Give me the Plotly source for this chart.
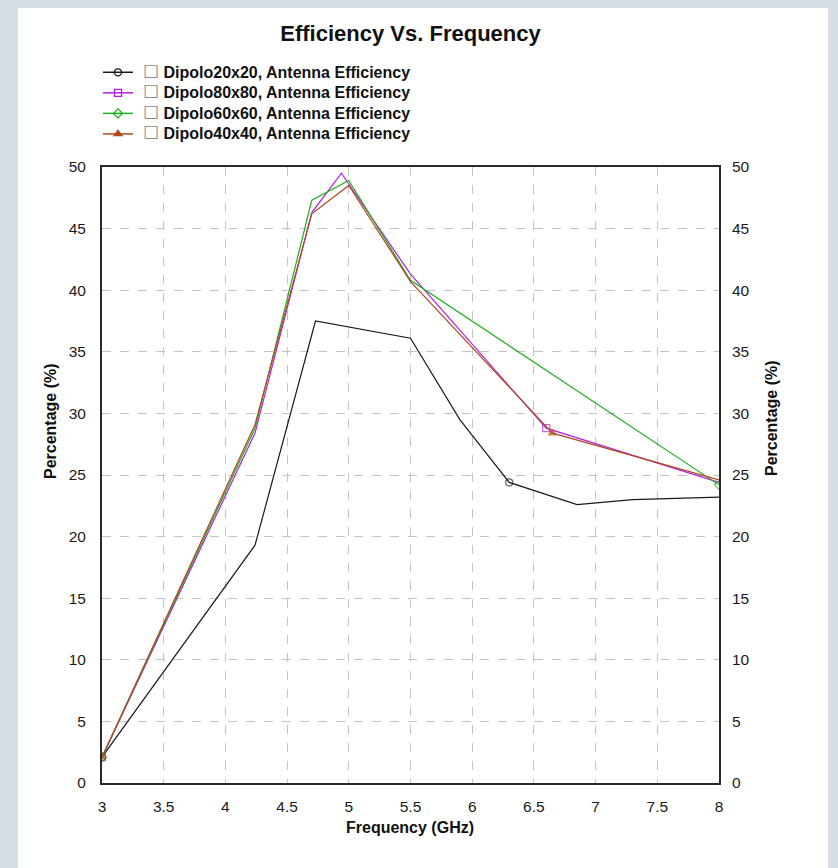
import plotly.graph_objects as go

# Data
black_x = [3.0, 4.24, 4.73, 5.5, 5.9, 6.3, 6.85, 7.3, 8.0]
black_y = [2.1, 19.3, 37.5, 36.1, 29.5, 24.4, 22.6, 23.0, 23.2]
black_m = [1, 0, 0, 0, 0, 1, 0, 0, 0]

purple_x = [3.0, 4.24, 4.7, 4.94, 5.5, 6.6, 8.0]
purple_y = [2.1, 28.4, 46.3, 49.5, 41.3, 28.8, 24.4]
purple_m = [1, 0, 0, 0, 0, 1, 0]

green_x = [3.0, 4.24, 4.7, 5.0, 5.5, 8.0]
green_y = [2.1, 28.8, 47.3, 48.9, 40.8, 24.2]
green_m = [1, 0, 0, 0, 0, 1]

brown_x = [3.0, 4.24, 4.7, 5.0, 5.5, 6.65, 8.0]
brown_y = [2.1, 29.1, 46.2, 48.5, 40.7, 28.4, 24.6]
brown_m = [1, 0, 0, 0, 0, 1, 0]

names = ["Dipolo20x20, Antenna Efficiency", "Dipolo80x80, Antenna Efficiency",
         "Dipolo60x60, Antenna Efficiency", "Dipolo40x40, Antenna Efficiency"]
y_ticks = list(range(0, 51, 5))
x_ticks = [3, 3.5, 4, 4.5, 5, 5.5, 6, 6.5, 7, 7.5, 8]

series = [
    (black_x, black_y, black_m, names[0], "#1a1a1a", "circle-open"),
    (purple_x, purple_y, purple_m, names[1], "#b41ee6", "square-open"),
    (green_x, green_y, green_m, names[2], "#1cae1c", "diamond-open"),
    (brown_x, brown_y, brown_m, names[3], "#b04a1c", "triangle-up"),
]

fig = go.Figure()
box = "<span style='color:#8a8a8a;font-weight:normal;font-size:18px'>&nbsp;☐</span>"
for xs, ys, ms, nm, col, sym in series:
    fig.add_trace(go.Scatter(
        x=xs, y=ys, mode="lines+markers", name=nm, showlegend=False,
        line=dict(color=col, width=1.2),
        marker=dict(symbol=sym, size=[7 if m else 0 for m in ms], color=col,
                    line=dict(color=col, width=1.2)),
    ))
for xs, ys, ms, nm, col, sym in series:
    fig.add_trace(go.Scatter(
        x=[None], y=[None], mode="lines+markers",
        name=box + "<span style='font-size:16px'> " + nm + "</span>",
        line=dict(color=col, width=1.5),
        marker=dict(symbol=sym, size=7, color=col, line=dict(color=col, width=1.3)),
    ))

# dummy trace for right axis
fig.add_trace(go.Scatter(x=[3], y=[0], yaxis="y2", mode="markers",
                         marker=dict(opacity=0), showlegend=False, hoverinfo="skip"))

W, H = 838, 868
L, R, T, B = 102, 719, 167, 783
pw, ph = R - L, B - T

def px2x(px):
    return (px - L) / pw

def py2y(py):
    return (B - py) / ph

fig.add_shape(type="rect", xref="paper", yref="paper",
              x0=px2x(18), x1=px2x(828), y0=py2y(872), y1=py2y(8),
              fillcolor="white", line=dict(width=0), layer="below")

axis_font = dict(family="Liberation Sans, Arial", size=15.5, color="#1a1a1a")
title_font = dict(family="Liberation Sans, Arial", size=16, color="#111111", weight="bold")

fig.add_annotation(text="Percentage (%)", xref="paper", yref="paper",
                   x=px2x(50), y=py2y(421), textangle=-90, showarrow=False,
                   font=title_font, xanchor="center", yanchor="middle")
fig.add_annotation(text="Percentage (%)", xref="paper", yref="paper",
                   x=px2x(771), y=py2y(418), textangle=-90, showarrow=False,
                   font=title_font, xanchor="center", yanchor="middle")
fig.add_annotation(text="Frequency (GHz)", xref="paper", yref="paper",
                   x=px2x(410), y=py2y(827), showarrow=False,
                   font=title_font, xanchor="center", yanchor="middle")

fig.update_layout(
    width=W, height=H,
    margin=dict(l=L, r=W - R, t=T, b=H - B),
    paper_bgcolor="#d6dee6",
    plot_bgcolor="white",
    title=dict(text="<b>Efficiency Vs. Frequency</b>", x=0.5, xref="paper",
               y=1 - 33 / H, yref="container", yanchor="middle",
               font=dict(family="Liberation Sans, Arial", size=22, color="#111")),
    xaxis=dict(range=[3, 8], tickvals=x_ticks, ticktext=[str(v) for v in x_ticks],
               showgrid=True, gridcolor="#c4c4c4", griddash="dash", gridwidth=1,
               showline=True, linecolor="#2a2a2a", linewidth=2, mirror=True,
               ticks="", tickfont=axis_font, zeroline=False, ticklabelstandoff=8),
    yaxis=dict(range=[0, 50], tickvals=y_ticks, showgrid=True, gridcolor="#c4c4c4",
               griddash="dash", gridwidth=1, showline=True, linecolor="#2a2a2a",
               linewidth=2, mirror=True, ticks="", tickfont=axis_font, zeroline=False,
               ticklabelstandoff=11),
    yaxis2=dict(range=[0, 50], tickvals=y_ticks, overlaying="y", side="right",
                showgrid=False, showline=False, ticks="", tickfont=axis_font,
                zeroline=False, ticklabelstandoff=12),
    legend=dict(x=px2x(98), y=py2y(57), xanchor="left", yanchor="top",
                bgcolor="rgba(0,0,0,0)", tracegroupgap=0, itemwidth=30,
                font=dict(family="Liberation Sans, Arial", size=13.5, color="#111", weight="bold")),
    showlegend=True,
)

fig.write_html("out.html")
